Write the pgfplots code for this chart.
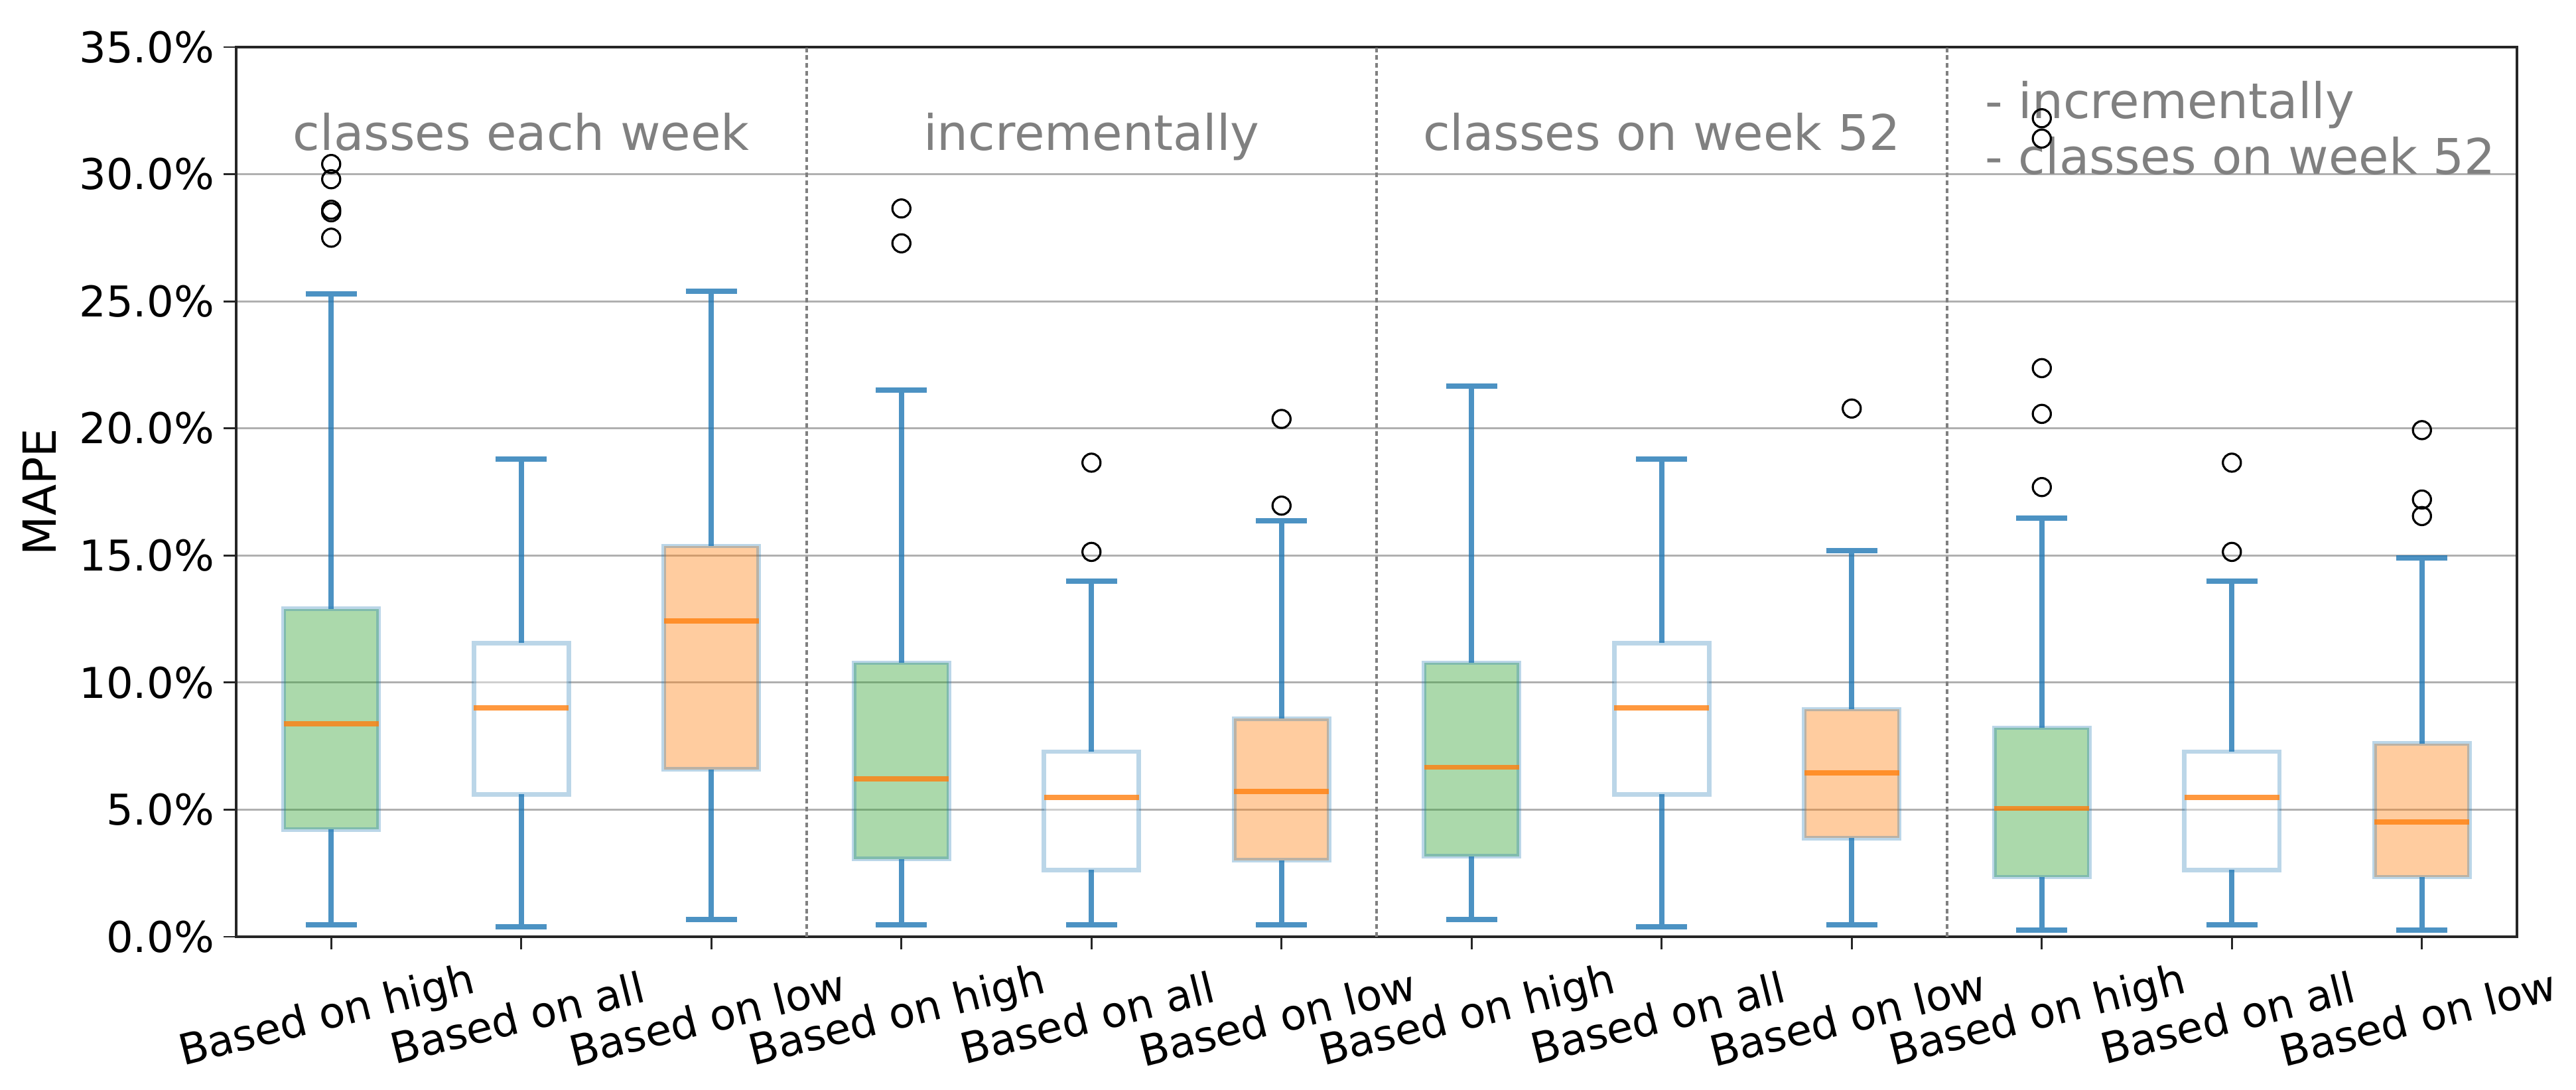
\documentclass[border=0pt]{standalone}
\usepackage{pgfplots}
\pgfplotsset{compat=1.18}
\usepgfplotslibrary{statistics}
\usepackage{fontspec}
\setmainfont{DejaVu Sans}
\definecolor{tabblue}{RGB}{31,119,180}
\definecolor{taborange}{RGB}{255,127,14}
\definecolor{tabgreen}{RGB}{44,160,44}
\definecolor{gridgray}{RGB}{176,176,176}
\definecolor{titlegray}{RGB}{128,128,128}
\pgfplotsset{
 mybox/.style={
   boxplot/draw direction=y,
   boxplot/box extend=0.5,
   boxplot/whisker extend=0.27,
   boxplot/every box/.style={draw=tabblue, draw opacity=0.3, line width=1.7pt, fill=#1, fill opacity=0.4},
   boxplot/every whisker/.style={draw=tabblue, draw opacity=0.8, line width=2pt},
   boxplot/every median/.style={draw=taborange, draw opacity=0.8, line width=1.9pt},
   mark=o, mark size=3.4pt, mark options={draw=black, line width=0.8pt, fill=none, solid, opacity=1},
 }
}
\begin{document}
\begin{tikzpicture}
\begin{axis}[
 scale only axis, width=859.5pt, height=335.25pt,
 xmin=0.5, xmax=12.5, ymin=0, ymax=35,
 xtick={1,...,12},
 xticklabels={Based on high,Based on all,Based on low,Based on high,Based on all,Based on low,Based on high,Based on all,Based on low,Based on high,Based on all,Based on low},
 ytick={0,5,...,35},
 /pgf/number format/assume math mode=true,
 yticklabel={\pgfmathprintnumber[fixed,fixed zerofill,precision=1]{\tick}\%},
 tick pos=left, tick align=outside,
 major tick length=4.75pt,
 ymajorgrids, grid style={gridgray, line width=0.75pt},
 axis line style={black!85, line width=0.9pt},
 tick style={black!85, line width=0.7pt},
 ticklabel style={font=\fontsize{16}{19}\selectfont},
 xticklabel style={rotate=14, anchor=center, xshift=-7.7pt, yshift=-24.6pt},
 ylabel={MAPE},
 every axis y label/.style={at={(rel axis cs:-0.0864,0.5)}, rotate=90, anchor=center, font=\fontsize{17.2}{20}\selectfont},
 clip=false,
]
\coordinate (bl) at (rel axis cs:0,0);
\coordinate (tr) at (rel axis cs:1,1);
\foreach \xx in {3.5,6.5,9.5}{
  \edef\temp{\noexpand\draw[titlegray, line width=1pt, dash pattern=on 1.75pt off 1.2pt] (axis cs:\xx,0) -- (axis cs:\xx,35);}
  \temp
}
% group 1
\addplot[mybox=tabgreen, boxplot prepared={draw position=1, lower whisker=0.48, lower quartile=4.22, median=8.38, upper quartile=12.9, upper whisker=25.3}] coordinates {(0,30.4) (0,29.8) (0,28.6) (0,28.5) (0,27.5)};
\addplot[mybox=white, boxplot prepared={draw position=2, lower whisker=0.39, lower quartile=5.6, median=9.0, upper quartile=11.55, upper whisker=18.8}] coordinates {};
\addplot[mybox=taborange, boxplot prepared={draw position=3, lower whisker=0.68, lower quartile=6.58, median=12.42, upper quartile=15.37, upper whisker=25.4}] coordinates {};
% group 2
\addplot[mybox=tabgreen, boxplot prepared={draw position=4, lower whisker=0.48, lower quartile=3.06, median=6.21, upper quartile=10.78, upper whisker=21.5}] coordinates {(0,28.65) (0,27.28)};
\addplot[mybox=white, boxplot prepared={draw position=5, lower whisker=0.48, lower quartile=2.63, median=5.48, upper quartile=7.28, upper whisker=14.0}] coordinates {(0,18.65) (0,15.14)};
\addplot[mybox=taborange, boxplot prepared={draw position=6, lower whisker=0.48, lower quartile=3.01, median=5.71, upper quartile=8.58, upper whisker=16.37}] coordinates {(0,20.37) (0,16.96)};
% group 3
\addplot[mybox=tabgreen, boxplot prepared={draw position=7, lower whisker=0.68, lower quartile=3.17, median=6.67, upper quartile=10.78, upper whisker=21.67}] coordinates {};
\addplot[mybox=white, boxplot prepared={draw position=8, lower whisker=0.39, lower quartile=5.6, median=9.0, upper quartile=11.55, upper whisker=18.8}] coordinates {};
\addplot[mybox=taborange, boxplot prepared={draw position=9, lower whisker=0.48, lower quartile=3.88, median=6.44, upper quartile=8.95, upper whisker=15.18}] coordinates {(0,20.78)};
% group 4
\addplot[mybox=tabgreen, boxplot prepared={draw position=10, lower whisker=0.27, lower quartile=2.35, median=5.05, upper quartile=8.22, upper whisker=16.46}] coordinates {(0,32.2) (0,31.4) (0,22.37) (0,20.57) (0,17.69)};
\addplot[mybox=white, boxplot prepared={draw position=11, lower whisker=0.48, lower quartile=2.63, median=5.48, upper quartile=7.28, upper whisker=14.0}] coordinates {(0,18.65) (0,15.14)};
\addplot[mybox=taborange, boxplot prepared={draw position=12, lower whisker=0.27, lower quartile=2.35, median=4.52, upper quartile=7.6, upper whisker=14.89}] coordinates {(0,19.93) (0,17.2) (0,16.55)};
% titles
\node[anchor=base, text=titlegray, font=\fontsize{18.5}{22}\selectfont] at (axis cs:2,30.95) {classes each week};
\node[anchor=base, text=titlegray, font=\fontsize{18.5}{22}\selectfont] at (axis cs:5,30.95) {incrementally};
\node[anchor=base, text=titlegray, font=\fontsize{18.5}{22}\selectfont] at (axis cs:8,30.95) {classes on week 52};
\node[anchor=base west, text=titlegray, font=\fontsize{18.5}{22}\selectfont, inner xsep=0pt] at (axis cs:9.70,32.2) {- incrementally};
\node[anchor=base west, text=titlegray, font=\fontsize{18.5}{22}\selectfont, inner xsep=0pt] at (axis cs:9.70,30.0) {- classes on week 52};
\end{axis}
\pgfresetboundingbox
\path[use as bounding box] ([xshift=-89pt,yshift=-57.75pt]bl) rectangle ([xshift=22.25pt,yshift=17.75pt]tr);
\end{tikzpicture}
\end{document}
